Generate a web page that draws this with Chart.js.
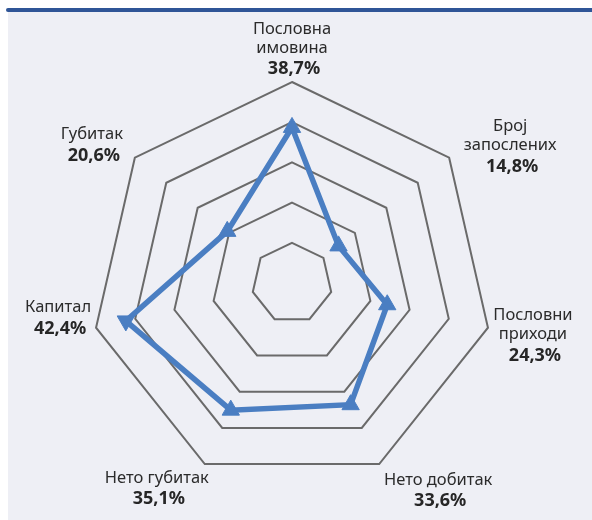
<!DOCTYPE html>
<html>
<head>
<meta charset="utf-8">
<script src="https://cdn.jsdelivr.net/npm/chart.js@4.4.1/dist/chart.umd.min.js"></script>
<style>
    html, body {
        margin: 0;
        padding: 0;
        background: #ffffff;
    }
    .wrap {
        position: relative;
        width: 592px;
        height: 520px;
        overflow: hidden;
    }
    .panel {
        position: absolute;
        left: 8px;
        top: 12px;
        right: 0;
        bottom: 0;
        background: #eeeff5;
    }
    .top-bar {
        position: absolute;
        left: 6px;
        top: 8px;
        right: 0;
        height: 4px;
        background: #2f5597;
        border-radius: 2px 0 0 2px;
    }
    canvas {
        position: absolute;
        left: 0;
        top: 0;
    }
</style>
</head>
<body>
<div class="wrap">
    <div class="panel"></div>
    <div class="top-bar"></div>
    <canvas id="radarChart" width="592" height="520"></canvas>
</div>
<script>
// chart data
const categories = [
    ['Пословна', 'имовина'],
    ['Број', 'запослених'],
    ['Пословни', 'приходи'],
    ['Нето добитак'],
    ['Нето губитак'],
    ['Капитал'],
    ['Губитак']
];
const values = [38.7, 14.8, 24.3, 33.6, 35.1, 42.4, 20.6];
const scaleMax = 50;
const scaleStep = 10;

// label placement relative to each outer vertex (first line centre)
const labelOffsets = [
    [0, -53], [61, -31], [45, -12], [59, 16], [-48, 14], [-38, -20], [-43, -23]
];
// marker rotation per point
const markerRotation = [0, 0, 0, 0, 0, -60, 0];

function formatPercent(v) {
    return v.toFixed(1).replace('.', ',') + '%';
}

const labelPlugin = {
    id: 'radarLabels',
    afterDraw(chart) {
        const scale = chart.scales.r;
        const ctx = chart.ctx;
        ctx.save();
        ctx.textAlign = 'center';
        ctx.textBaseline = 'middle';
        categories.forEach((lines, i) => {
            const p = scale.getPointPosition(i, scale.drawingArea);
            const x = p.x + labelOffsets[i][0];
            let y = p.y + labelOffsets[i][1];
            ctx.fillStyle = '#2b2b2b';
            ctx.font = '16.5px "Noto Sans", sans-serif';
            lines.forEach((line, j) => {
                if (j > 0) y += 19;
                ctx.fillText(line, x, y);
            });
            y += 21;
            ctx.fillStyle = '#262626';
            ctx.font = 'bold 18px "Noto Sans", sans-serif';
            ctx.fillText(formatPercent(values[i]), x + 2, y);
        });
        ctx.restore();
    }
};

const ctx = document.getElementById('radarChart').getContext('2d');
const radarChart = new Chart(ctx, {
    type: 'radar',
    data: {
        labels: categories.map(c => c.join(' ')),
        datasets: [{
            data: values,
            borderColor: '#4a7ec2',
            backgroundColor: 'rgba(0,0,0,0)',
            borderWidth: 5.5,
            fill: false,
            pointStyle: 'triangle',
            pointRadius: 10,
            pointRotation: markerRotation,
            pointBackgroundColor: '#4a7ec2',
            pointBorderColor: '#4a7ec2',
            pointBorderWidth: 1
        }]
    },
    options: {
        responsive: false,
        animation: false,
        layout: {
            padding: { left: 91, right: 99, top: 82, bottom: 36 }
        },
        plugins: {
            legend: { display: false },
            tooltip: { enabled: false }
        },
        scales: {
            r: {
                min: 0,
                max: scaleMax,
                ticks: { display: false, stepSize: scaleStep },
                angleLines: { display: false },
                pointLabels: { display: false },
                grid: {
                    color: '#6a6a6a',
                    lineWidth: 2
                }
            }
        }
    },
    plugins: [labelPlugin]
});
</script>
</body>
</html>
